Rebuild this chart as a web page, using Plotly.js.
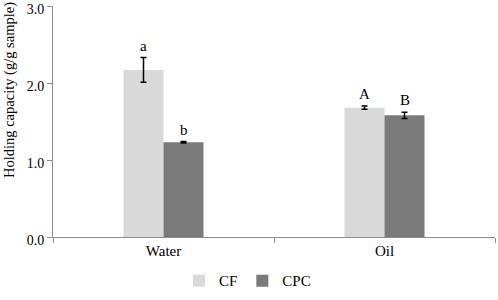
<!DOCTYPE html>
<html><head><meta charset="utf-8">
<script src="https://cdn.plot.ly/plotly-3.0.1.min.js"></script>
<style>html,body{margin:0;padding:0;background:#fff}#chart{width:498px;height:300px}</style>
</head><body><div id="chart"></div>
<script>
const categories = ["Water", "Oil"];
const cfValues = [2.17, 1.68];
const cfErrors = [0.16, 0.02];
const cpcValues = [1.23, 1.58];
const cpcErrors = [0.01, 0.04];
const cfLetters = ["a", "A"];
const cpcLetters = ["b", "B"];
const yTickVals = [0, 1, 2, 3];
const yTickText = ["0.0", "1.0", "2.0", "3.0"];
const yTitle = "Holding capacity (g/g sample)";

const font = {family: "Liberation Serif, Times New Roman, serif", color: "#000"};
const f = s => Object.assign({size: s}, font);
const axisColor = "#8c8c8c";

const traces = [
  {type: "bar", name: "CF", x: categories, y: cfValues,
   marker: {color: "#d9d9d9"},
   error_y: {type: "data", array: cfErrors, visible: true, color: "#000", thickness: 1.5, width: 3}},
  {type: "bar", name: "CPC", x: categories, y: cpcValues,
   marker: {color: "#7a7a7a"},
   error_y: {type: "data", array: cpcErrors, visible: true, color: "#000", thickness: 1.5, width: 3}}
];

const annotations = [];
categories.forEach((c, i) => {
  annotations.push({x: c, y: cfValues[i] + cfErrors[i], text: cfLetters[i], showarrow: false,
    xshift: -20, yshift: 2, yanchor: "bottom", font: f(15)});
  annotations.push({x: c, y: cpcValues[i] + cpcErrors[i], text: cpcLetters[i], showarrow: false,
    xshift: 20, yshift: 2, yanchor: "bottom", font: f(15)});
});
annotations.push({xref: "paper", yref: "paper", x: -0.097, y: 0.637, text: yTitle, textangle: -90,
  showarrow: false, xanchor: "center", yanchor: "middle", font: f(14.5)});

const layout = {
  width: 498, height: 300,
  margin: {l: 53, r: 3, t: 6, b: 54},
  paper_bgcolor: "#fff", plot_bgcolor: "#fff",
  font: f(15),
  barmode: "group", bargap: 0.638, bargroupgap: 0,
  showlegend: true,
  legend: {orientation: "h", x: 0.44, xanchor: "center", y: -0.19, yanchor: "middle",
    font: f(15), itemwidth: 30, tracegroupgap: 0},
  xaxis: {type: "category", showline: true, linecolor: axisColor, linewidth: 1,
    ticks: "outside", tickson: "boundaries", ticklen: 5, tickcolor: axisColor,
    tickfont: f(15), showgrid: false, zeroline: false},
  yaxis: {range: [0, 3], tickvals: yTickVals, ticktext: yTickText, showline: true,
    linecolor: axisColor, linewidth: 1, ticks: "outside", ticklen: 5, tickcolor: axisColor,
    tickfont: f(14), showgrid: false, zeroline: false, ticklabeloverflow: "allow",
    ticklabelshift: 3},
  annotations: annotations
};

Plotly.newPlot("chart", traces, layout, {staticPlot: true, displayModeBar: false});
</script></body></html>
